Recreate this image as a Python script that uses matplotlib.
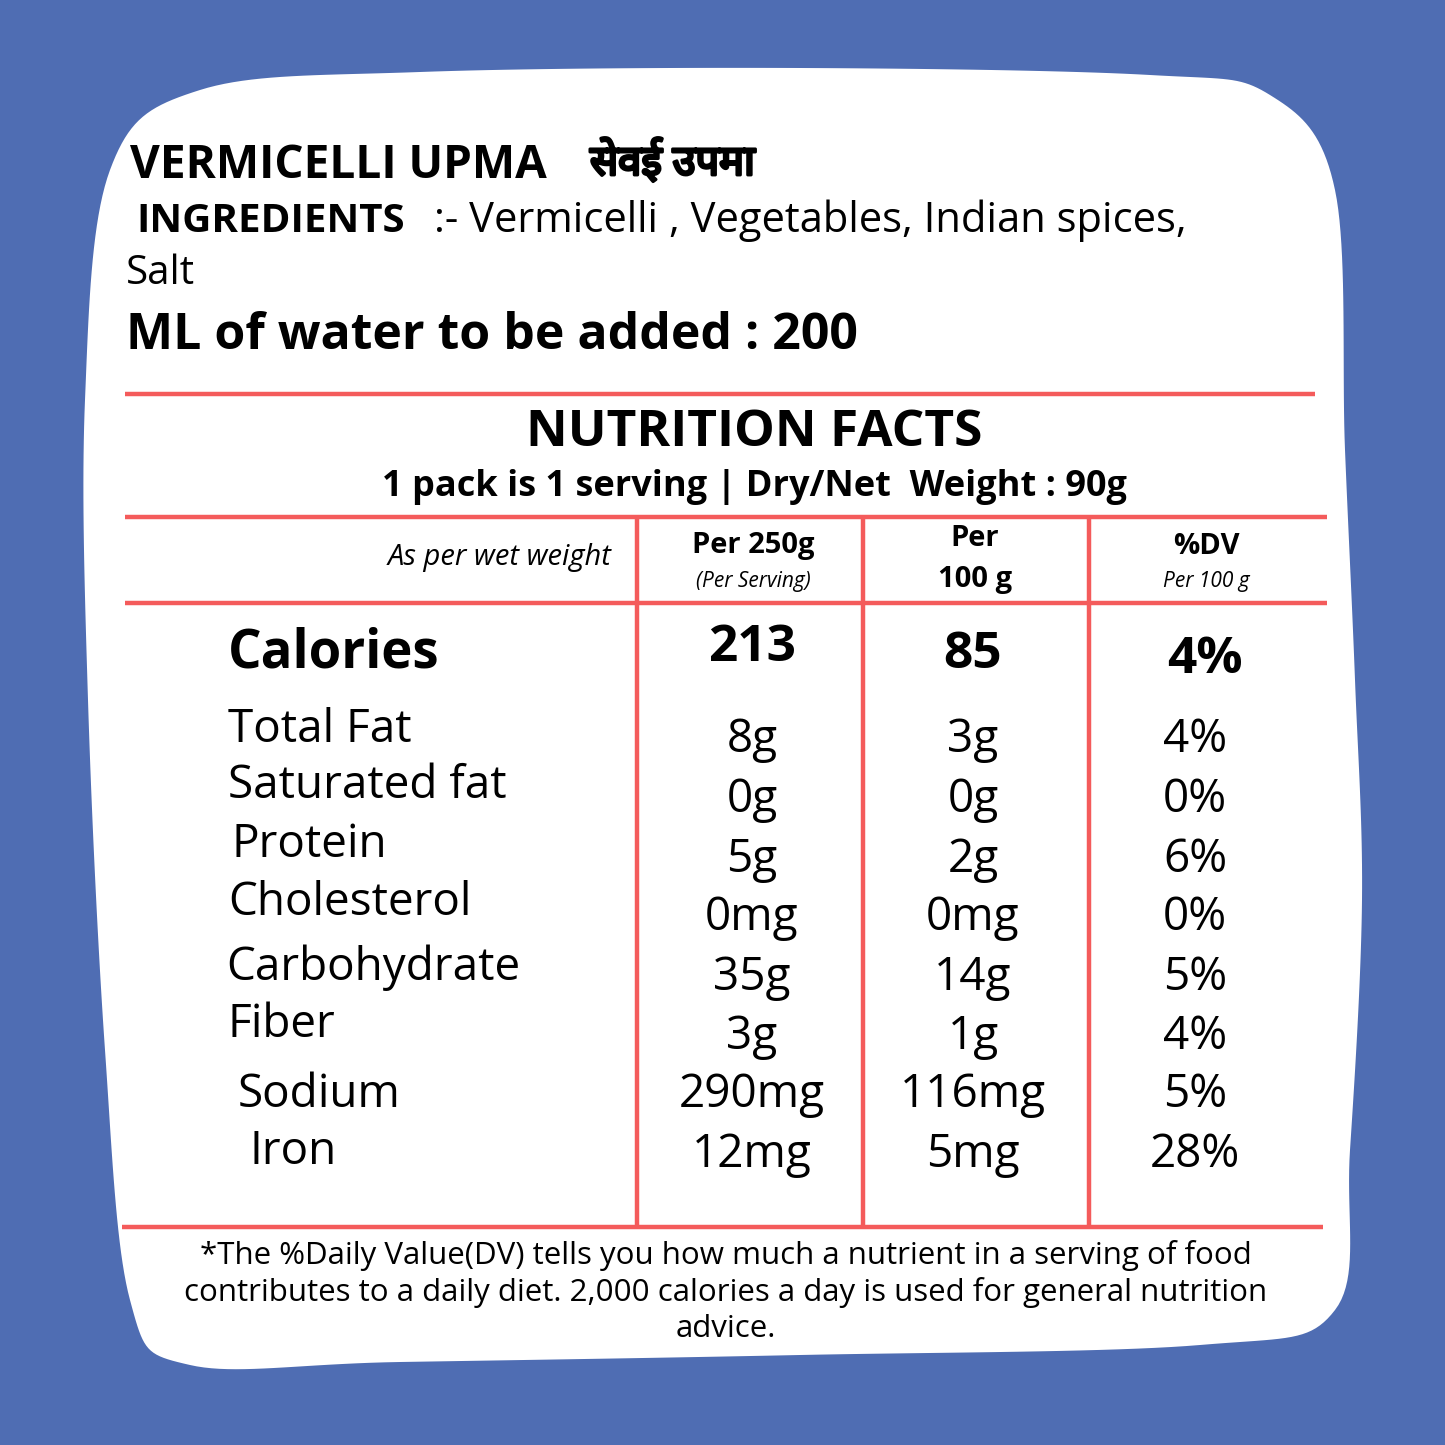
import matplotlib

matplotlib.use("Agg")
import matplotlib.pyplot as plt
import matplotlib.patheffects as pe
import numpy as np
from matplotlib.patches import Polygon

BLUE = "#4F6DB3"
RED = "#F45B5B"
FONT = "Open Sans"

title = "VERMICELLI UPMA"
title_hindi = "सेवई उपमा"
nutrients = ["Total Fat", "Saturated fat", "Protein", "Cholesterol",
             "Carbohydrate", "Fiber", "Sodium", "Iron"]
per_serving = ["8g", "0g", "5g", "0mg", "35g", "3g", "290mg", "12mg"]
per_100g = ["3g", "0g", "2g", "0mg", "14g", "1g", "116mg", "5mg"]
pct_dv = ["4%", "0%", "6%", "0%", "5%", "4%", "5%", "28%"]
calories = ["213", "85", "4%"]

label_x = [228, 228, 231, 228, 226, 228, 238, 250]
label_y = [730, 786, 845, 903, 968, 1025, 1095, 1152]
value_y = [740, 800, 860, 918, 978, 1037, 1095, 1155]
col_x = [752, 973, 1195]

fig = plt.figure(figsize=(14.45, 14.45), dpi=100)
ax = fig.add_axes([0, 0, 1, 1])
ax.set_xlim(0, 1445)
ax.set_ylim(1445, 0)
ax.axis("off")
fig.patch.set_facecolor(BLUE)

# white blob (smoothed closed outline)
pts = np.array([(110, 170), (200, 90), (420, 72), (800, 68), (1150, 75), (1270, 95),
                (1335, 190), (1345, 450), (1355, 680), (1362, 900), (1350, 1150),
                (1335, 1310), (1200, 1345), (800, 1355), (400, 1362), (190, 1365),
                (130, 1300), (105, 1050), (88, 700), (85, 400)])
n = len(pts)
curve = []
for i in range(n):
    p0, p1, p2, p3 = pts[i - 1], pts[i], pts[(i + 1) % n], pts[(i + 2) % n]
    for t in np.linspace(0, 1, 20, endpoint=False):
        t2, t3 = t * t, t * t * t
        curve.append(0.5 * ((2 * p1) + (-p0 + p2) * t + (2 * p0 - 5 * p1 + 4 * p2 - p3) * t2
                            + (-p0 + 3 * p1 - 3 * p2 + p3) * t3))
ax.add_patch(Polygon(curve, closed=True, facecolor="white", edgecolor="none"))

# header
ax.text(130, 165, title, fontsize=33, fontweight="bold", family=FONT, va="center")
ax.text(590, 163, title_hindi, fontsize=30, fontweight="bold", family="Noto Sans", va="center",
        path_effects=[pe.withStroke(linewidth=2.2, foreground="black")])
ax.text(136, 221, "INGREDIENTS", fontsize=29, fontweight="bold", family=FONT, va="center")
ax.text(434, 221, ":- Vermicelli , Vegetables, Indian spices,", fontsize=30, family=FONT, va="center")
ax.text(126, 274, "Salt", fontsize=29, family=FONT, va="center")
ax.text(126, 336, "ML of water to be added : 200", fontsize=36, fontweight="bold", family=FONT, va="center")

# rules
kw = dict(color=RED, lw=3.2, solid_capstyle="butt")
ax.plot([125, 1315], [394, 394], **kw)
for y in (517, 603):
    ax.plot([125, 1327], [y, y], **kw)
ax.plot([122, 1323], [1227, 1227], **kw)
for x in (637, 863, 1089):
    ax.plot([x, x], [517, 1229], **kw)

ax.text(754, 433, "NUTRITION FACTS", fontsize=37, fontweight="bold", family=FONT, ha="center", va="center")
ax.text(754, 487, "1 pack is 1 serving | Dry/Net  Weight : 90g", fontsize=26, fontweight="bold",
        family=FONT, ha="center", va="center")

ax.text(612, 557, "As per wet weight", fontsize=21, style="italic", family=FONT, ha="right", va="center")
ax.text(753, 546, "Per 250g", fontsize=21, fontweight="bold", family=FONT, ha="center", va="center")
ax.text(753, 582, "(Per Serving)", fontsize=15, style="italic", family=FONT, ha="center", va="center")
ax.text(975, 538, "Per", fontsize=21, fontweight="bold", family=FONT, ha="center", va="center")
ax.text(975, 579, "100 g", fontsize=21, fontweight="bold", family=FONT, ha="center", va="center")
ax.text(1206, 546, "%DV", fontsize=21, fontweight="bold", family=FONT, ha="center", va="center")
ax.text(1206, 582, "Per 100 g", fontsize=15, style="italic", family=FONT, ha="center", va="center")

# calories row
ax.text(228, 654, "Calories", fontsize=38, fontweight="bold", family=FONT, va="center")
for x, y, v in zip(col_x, [648, 655, 660], calories):
    ax.text(x + (10 if v == "4%" else 0), y, v, fontsize=37, fontweight="bold", family=FONT,
            ha="center", va="center")

for i, name in enumerate(nutrients):
    ax.text(label_x[i], label_y[i], name, fontsize=33, family=FONT, va="center")
    for x, v in zip(col_x, (per_serving[i], per_100g[i], pct_dv[i])):
        ax.text(x, value_y[i], v, fontsize=33, family=FONT, ha="center", va="center")

foot = ("*The %Daily Value(DV) tells you how much a nutrient in a serving of food\n"
        "contributes to a daily diet. 2,000 calories a day is used for general nutrition\n"
        "advice.")
ax.text(726, 1292, foot, fontsize=22.5, family=FONT, ha="center", va="center", linespacing=1.25)

fig.savefig("out.png", dpi=100, facecolor=BLUE)
